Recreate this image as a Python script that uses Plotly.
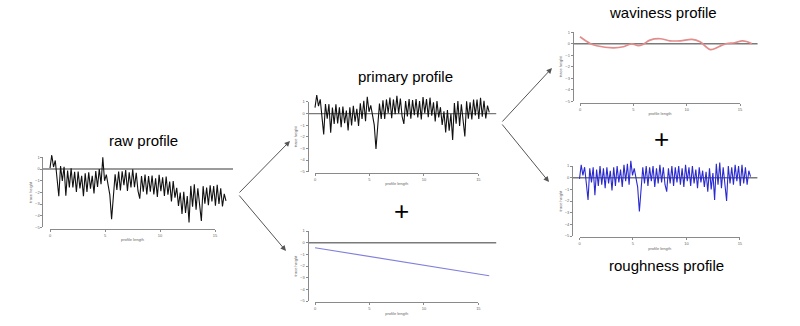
import plotly.graph_objects as go

W, H = 800, 326
FONT = "Liberation Sans, Arial, sans-serif"

# ---------------- data ----------------
x_prof = [round(0.16 * i, 2) for i in range(101)]  # sample positions along profile length

raw_vals = [
    0.08, 1.2, 0.17, 0.73, -0.81, -2.34, 0.26, -1.03, 0.19, -2.29,
    -0.14, -1.58, 0.07, -1.58, -0.23, -1.97, -0.21, -1.66, -0.59, -2.34,
    -0.36, -1.96, -0.28, -1.68, -0.59, -2.09, -0.17, -1.54, 0.0, -1.3,
    1.0, -1.01, -0.49, -1.55, -2.22, -4.31, -1.97, -0.45, -1.79, -0.22,
    -1.84, -0.19, -1.39, -0.08, -1.89, -0.29, -1.59, -0.02, -1.56, -0.32,
    -1.88, -2.54, -0.6, -1.94, -0.47, -2.19, -0.61, -1.94, -0.56, -2.19,
    -0.79, -2.39, -0.5, -1.9, -0.71, -2.31, -0.64, -2.21, -1.08, -2.77,
    -1.04, -2.45, -1.61, -3.16, -2.01, -3.85, -1.95, -3.76, -2.32, -4.59,
    -1.45, -3.24, -1.32, -3.48, -1.65, -2.9, -4.46, -1.47, -2.98, -1.6,
    -3.1, -1.4, -2.79, -1.46, -3.15, -1.35, -3.0, -1.65, -3.2, -2.13, -2.73,
]

primary_vals = [
    0.51, 1.6, 0.65, 1.23, -0.28, -1.79, 0.83, -0.43, 0.81, -1.64,
    0.53, -0.89, 0.79, -0.84, 0.54, -1.18, 0.6, -0.82, 0.27, -1.45,
    0.55, -1.03, 0.68, -0.7, 0.42, -1.06, 0.88, -0.46, 1.1, -0.65,
    1.45, 0.16, 0.71, -0.33, -0.97, -3.04, -0.68, 0.87, -0.45, 1.15,
    -0.45, 1.22, 0.05, 1.38, -0.4, 1.22, -0.06, 1.54, 0.02, 1.29,
    -0.25, -0.89, 1.08, -0.24, 1.26, -0.44, 1.16, -0.14, 1.26, -0.34,
    1.08, -0.5, 1.42, 0.04, 1.26, -0.32, 1.37, -0.17, 0.98, -0.68,
    1.07, -0.32, 0.55, -0.98, 0.2, -1.62, 0.3, -1.48, -0.02, -2.26,
    0.9, -0.87, 1.08, -1.06, 0.8, -0.43, -1.97, 1.05, -0.44, 0.97,
    -0.51, 1.21, -0.15, 1.2, -0.46, 1.36, -0.27, 1.11, -0.42, 0.68, 0.1,
]

roughness_vals = [
    -0.1, 1.1, 0.2, 0.9, -0.5, -1.9, 0.8, -0.4, 0.9, -1.5,
    0.7, -0.7, 1.0, -0.6, 0.8, -0.9, 0.9, -0.5, 0.6, -1.1,
    0.9, -0.7, 1.0, -0.4, 0.7, -0.8, 1.1, -0.3, 1.2, -0.6,
    1.45, 0.2, 0.8, -0.2, -0.8, -2.9, -0.6, 0.9, -0.5, 1.0,
    -0.7, 0.9, -0.3, 1.0, -0.8, 0.8, -0.5, 1.1, -0.4, 0.9,
    -0.6, -1.2, 0.8, -0.5, 1.0, -0.7, 0.9, -0.4, 1.0, -0.6,
    0.8, -0.8, 1.1, -0.3, 0.9, -0.7, 1.0, -0.5, 0.7, -0.9,
    0.9, -0.4, 0.6, -0.8, 0.5, -1.2, 0.8, -1.0, 0.4, -1.9,
    1.2, -0.6, 1.3, -0.9, 0.9, -0.4, -2.0, 1.0, -0.5, 0.9,
    -0.6, 1.1, -0.3, 1.0, -0.7, 1.1, -0.5, 0.9, -0.6, 0.6, 0.1,
]

wav_x = [0, 0.94, 1.56, 3.1, 4.06, 4.84, 5.47, 5.94, 6.56, 7.5, 8.44,
         9.4, 10.5, 11.25, 12.2, 13.0, 13.75, 14.5, 15.2, 15.6, 16.1]
wav_vals = [0.61, 0.03, -0.17, -0.35, -0.26, 0.0, -0.17, -0.03, 0.32, 0.44, 0.26,
            0.26, 0.38, 0.17, -0.5, -0.26, 0.03, 0.09, 0.26, 0.2, 0.0]

trend_x = [0, 16]
trend_vals = [-0.43, -2.83]

x_tick_vals = [0, 5, 10, 15]
y_tick_vals = [1, 0, -1, -2, -3, -4, -5]

# ---------------- panel geometry (pixels) ----------------
XMIN, XMAX = -0.64, 16.64
YMIN, YMAX = -5.08, 1.6

panels = [
    dict(x0=50.0, px=11.0, y0=169.0, py=11.67),     # raw
    dict(x0=315.0, px=10.89, y0=113.6, py=11.62),   # primary
    dict(x0=315.0, px=10.89, y0=242.7, py=11.67),   # trend
    dict(x0=580.0, px=10.67, y0=43.8, py=11.5),     # waviness
    dict(x0=579.5, px=10.69, y0=177.7, py=11.67),   # roughness
]

series = [
    (x_prof, raw_vals, "#111111", 1.1, "linear"),
    (x_prof, primary_vals, "#111111", 1.1, "linear"),
    (trend_x, trend_vals, "#8080dd", 1.2, "linear"),
    (wav_x, wav_vals, "#e38c8c", 1.7, "spline"),
    (x_prof, roughness_vals, "#2a2ad0", 1.1, "linear"),
]

fig = go.Figure()
layout = {}
shapes = []

def ax_name(n, kind):
    return kind if n == 1 else f"{kind}{n}"

axis_color = "#8a8a8a"
for k, (p, (sx, sy, col, lw, shp)) in enumerate(zip(panels, series)):
    dn = 2 * k + 1   # data axes number
    vn = 2 * k + 2   # display axes number
    xl = p["x0"] + XMIN * p["px"]
    xr = p["x0"] + XMAX * p["px"]
    yb = p["y0"] - YMIN * p["py"]
    yt = p["y0"] - YMAX * p["py"]
    layout[ax_name(dn, "xaxis")] = dict(domain=[xl / W, xr / W], range=[XMIN, XMAX],
                                        visible=False, anchor=ax_name(dn, "y"), fixedrange=True)
    layout[ax_name(dn, "yaxis")] = dict(domain=[1 - yb / H, 1 - yt / H], range=[YMIN, YMAX],
                                        visible=False, anchor=ax_name(dn, "x"), fixedrange=True)
    xs0 = p["x0"]
    xs1 = p["x0"] + 15 * p["px"]
    ys_bot = p["y0"] + 5 * p["py"]
    ys_top = p["y0"] - 1 * p["py"]
    layout[f"xaxis{vn}"] = dict(domain=[xs0 / W, xs1 / W], range=[0, 15], anchor="free",
                                position=1 - (yb + 0.5) / H, showline=True, linecolor=axis_color,
                                linewidth=1, ticks="outside", ticklen=2, tickcolor=axis_color,
                                tickvals=x_tick_vals, showgrid=False, zeroline=False,
                                tickfont=dict(size=4, color="#666", family=FONT),
                                title=dict(text="profile length", standoff=1,
                                           font=dict(size=4, color="#666", family=FONT)),
                                automargin=False, fixedrange=True)
    layout[f"yaxis{vn}"] = dict(domain=[1 - ys_bot / H, 1 - ys_top / H], range=[-5, 1], anchor="free",
                                position=(xl - 0.5) / W, side="left", showline=True, linecolor=axis_color,
                                linewidth=1, ticks="outside", ticklen=2, tickcolor=axis_color,
                                tickvals=y_tick_vals, showgrid=False, zeroline=False,
                                tickfont=dict(size=4, color="#666", family=FONT),
                                title=dict(text="trace height", standoff=1,
                                           font=dict(size=4, color="#666", family=FONT)),
                                automargin=False, fixedrange=True)
    fig.add_trace(go.Scatter(x=[None], y=[None], xaxis=f"x{vn}", yaxis=f"y{vn}",
                             showlegend=False, hoverinfo="skip"))
    shapes.append(dict(type="line", xref=f"{ax_name(dn, 'x')} domain", x0=0, x1=1,
                       yref=ax_name(dn, "y"), y0=0, y1=0,
                       line=dict(color="#7a7a7a", width=1.4), layer="below"))
    line = dict(color=col, width=lw, shape=shp)
    if shp == "spline":
        line["smoothing"] = 1.0
    fig.add_trace(go.Scatter(x=sx, y=sy, mode="lines", xaxis=ax_name(dn, "x"), yaxis=ax_name(dn, "y"),
                             line=line, showlegend=False, hoverinfo="skip"))

texts = [
    ("raw profile", 143, 140, 15),
    ("primary profile", 406, 77, 15),
    ("waviness profile", 663, 12, 15),
    ("roughness profile", 666, 265, 15),
    ("+", 402, 211, 26),
    ("+", 661, 139, 26),
]
annotations = []
for t, cx, cy, fs in texts:
    annotations.append(dict(text=t, x=cx / W, y=1 - cy / H, xref="paper", yref="paper",
                            xanchor="center", yanchor="middle", showarrow=False,
                            font=dict(size=fs, color="#000", family=FONT)))

arrows = [(238, 194, 290, 141), (238, 194, 286, 251), (501, 123, 552, 68), (501, 123, 549, 182)]
for tx, ty, hx, hy in arrows:
    annotations.append(dict(text="", x=hx / W, y=1 - hy / H, xref="paper", yref="paper",
                            ax=tx - hx, ay=ty - hy, showarrow=True, arrowhead=2, arrowsize=1.1,
                            arrowwidth=1, arrowcolor="#555555"))

fig.update_layout(width=W, height=H, autosize=False, margin=dict(l=0, r=0, t=0, b=0),
                  paper_bgcolor="white", plot_bgcolor="rgba(0,0,0,0)", showlegend=False,
                  shapes=shapes, annotations=annotations, font=dict(family=FONT), **layout)

fig.write_html("out.html")
